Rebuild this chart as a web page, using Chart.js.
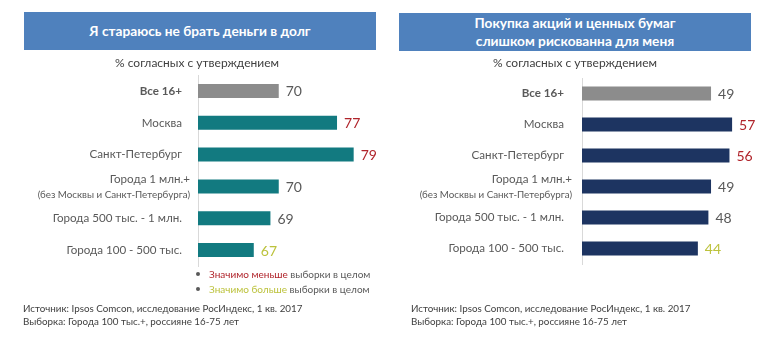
<!DOCTYPE html>
<html>
<head>
<meta charset="utf-8">
<script src="https://cdn.jsdelivr.net/npm/chart.js@4.4.1/dist/chart.umd.min.js"></script>
<style>
  html, body { margin:0; padding:0; background:#fff; }
  body { width:777px; height:351px; position:relative; overflow:hidden; font-family:Lato, "Open Sans", sans-serif; }
  canvas { position:absolute; top:0; }
  .tbox { position:absolute; background:#4f81bd; color:#fff; font-weight:bold; text-align:center; display:flex; align-items:center; justify-content:center; line-height:18px; font-size:13.7px; }
  .sub { position:absolute; color:#404040; font-size:12px; text-align:center; }
  .note { position:absolute; color:#404040; font-size:9.8px; line-height:13px; white-space:nowrap; }
  .leg { position:absolute; font-size:10px; color:#595959; white-space:nowrap; line-height:15px; }
  .leg span.b { display:inline-block; width:4px; height:4px; border-radius:50%; background:#595959; margin-right:9px; vertical-align:middle; position:relative; top:-1px; }
</style>
</head>
<body>
<canvas id="c1" width="390" height="351" style="left:0"></canvas>
<canvas id="c2" width="387" height="351" style="left:390px"></canvas>

<div class="tbox" style="left:24px;top:12px;width:352px;height:38px;">Я стараюсь не брать деньги в долг</div>
<div class="tbox" style="left:399px;top:13px;width:352px;height:38px;">Покупка акций и ценных бумаг<br>слишком рискованна для меня</div>
<div class="sub" style="left:24px;top:55px;width:346px;">% согласных с утверждением</div>
<div class="sub" style="left:399px;top:55px;width:352px;">% согласных с утверждением</div>

<div class="leg" style="left:196px;top:267px;"><span class="b"></span><span style="color:#b0242b">Значимо меньше</span> выборки в целом</div>
<div class="leg" style="left:196px;top:282px;"><span class="b"></span><span style="color:#bcc23c">Значимо больше</span> выборки в целом</div>

<div class="note" style="left:23px;top:302px;">Источник: Ipsos Comcon, исследование РосИндекс, 1 кв. 2017<br>Выборка: Города 100 тыс.+, россияне 16-75 лет</div>
<div class="note" style="left:411px;top:302px;">Источник: Ipsos Comcon, исследование РосИндекс, 1 кв. 2017<br>Выборка: Города 100 тыс.+, россияне 16-75 лет</div>

<script>
const categories = ['Все 16+', 'Москва', 'Санкт-Петербург', 'Города 1 млн.+', 'Города 500 тыс. - 1 млн.', 'Города 100 - 500 тыс.'];
const categoryNote = ['', '', '', '(без Москвы и Санкт-Петербурга)', '', ''];
const debtValues = [70, 77, 79, 70, 69, 67];
const stockValues = [49, 57, 56, 49, 48, 44];
// significance: 0 = none, -1 = "Значимо меньше" (red), 1 = "Значимо больше" (yellow-green)
const debtSig = [0, -1, -1, 0, 0, 1];
const stockSig = [0, -1, -1, 0, 0, 1];

const FONT = 'Lato, "Open Sans", sans-serif';
const LABEL_SIZE = 11.6;
const sigColor = s => s === -1 ? '#b0242b' : (s === 1 ? '#bcc23c' : '#595959');

function makeChart(id, values, sig, mainColor, xmin, xmax, pad, axisW, tickPad, barPct) {
  const valuePlugin = {
    id: 'vals' + id,
    afterDatasetsDraw(chart) {
      const ctx = chart.ctx;
      const meta = chart.getDatasetMeta(0);
      ctx.save();
      ctx.font = '14px ' + FONT;
      ctx.textBaseline = 'middle';
      ctx.textAlign = 'left';
      meta.data.forEach((bar, i) => {
        ctx.fillStyle = sigColor(sig[i]);
        ctx.fillText(String(values[i]), bar.x + 7, bar.y + 1);
      });
      // two-line category label
      const y = chart.scales.y;
      const xr = chart.chartArea.left - tickPad;
      ctx.textAlign = 'right';
      categoryNote.forEach((n, i) => {
        if (!n) return;
        const py = y.getPixelForValue(i);
        ctx.fillStyle = '#595959';
        ctx.font = LABEL_SIZE + 'px ' + FONT;
        ctx.fillText(categories[i], xr, py - 7);
        ctx.font = '9.8px ' + FONT;
        ctx.fillText(n, xr, py + 8);
      });
      ctx.restore();
    }
  };
  return new Chart(document.getElementById(id), {
    type: 'bar',
    data: {
      labels: categories,
      datasets: [{
        data: values,
        backgroundColor: values.map((v, i) => i === 0 ? '#8c8c8c' : mainColor),
        barPercentage: barPct,
        categoryPercentage: 1
      }]
    },
    options: {
      indexAxis: 'y',
      responsive: false,
      devicePixelRatio: 1,
      animation: false,
      layout: { padding: pad },
      plugins: { legend: { display: false }, tooltip: { enabled: false } },
      scales: {
        x: { display: false, min: xmin, max: xmax },
        y: {
          afterFit(scale) { scale.width = axisW; },
          grid: { display: false },
          border: { display: true, color: '#d9d9d9', width: 1 },
          ticks: {
            padding: tickPad,
            color: '#595959',
            font: c => ({ family: FONT, size: LABEL_SIZE, weight: c.index === 0 ? 'bold' : 'normal' }),
            callback: (v, i) => categoryNote[i] ? '' : categories[i]
          }
        }
      }
    },
    plugins: [valuePlugin]
  });
}

makeChart('c1', debtValues, debtSig, '#127a80', 60.3, 80, { left: 0, right: 28, top: 75, bottom: 85 }, 198, 8, 0.44);
makeChart('c2', stockValues, stockSig, '#1d3461', 0, 60, { left: 0, right: 37, top: 78, bottom: 87 }, 192, 10, 0.45);
</script>
</body>
</html>
